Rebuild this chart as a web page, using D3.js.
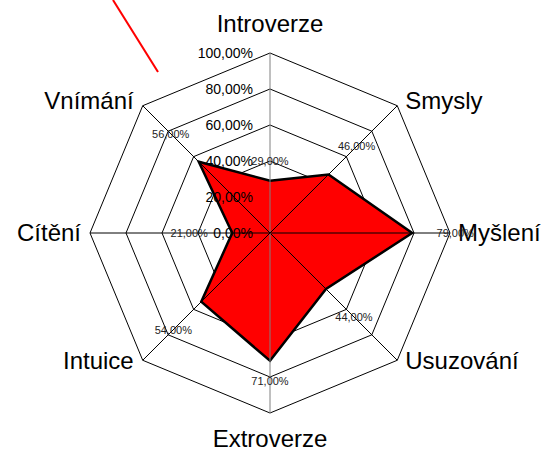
<!DOCTYPE html>
<html>
  <head>
    <meta charset="utf-8" />
    <script src="https://d3js.org/d3.v7.min.js"></script>
    <style>
        body { margin: 0; background: #fff; }
        svg text { font-family: "Liberation Sans", Arial, sans-serif; }
    </style>
  </head>
  <body>
    <svg id="radar" width="550" height="450"></svg>

    <script>
        // data
        var categories = ["Introverze", "Smysly", "Myšlení", "Usuzování", "Extroverze", "Intuice", "Cítění", "Vnímání"];
        var values = [0.29, 0.46, 0.79, 0.44, 0.71, 0.54, 0.21, 0.56];
        var ticks = [0, 0.2, 0.4, 0.6, 0.8, 1.0];

        var svg = d3.select("#radar");
        var cx = 270, cy = 233;

        var r = d3.scaleLinear().domain([0, 1]).range([0, 180]);
        var angle = d3.scaleLinear().domain([0, categories.length]).range([0, 2 * Math.PI]);

        function fmt(v) {
            return (v * 100).toFixed(2).replace(".", ",") + "%";
        }
        function pt(i, v) {
            var a = angle(i);
            return [cx + r(v) * Math.sin(a), cy - r(v) * Math.cos(a)];
        }

        var g = svg.append("g");

        // rings
        ticks.slice(1).forEach(function(t) {
            g.append("polygon")
                .attr("points", categories.map(function(c, i) { return pt(i, t).join(","); }).join(" "))
                .attr("fill", "none")
                .attr("stroke", "#000")
                .attr("stroke-width", 1);
        });

        // data area
        g.append("polygon")
            .attr("points", values.map(function(v, i) { return pt(i, v).join(","); }).join(" "))
            .attr("fill", "#ff0000")
            .attr("stroke", "#000")
            .attr("stroke-width", 2.5)
            .attr("stroke-linejoin", "miter");

        // spokes
        categories.forEach(function(c, i) {
            var p = pt(i, 1);
            g.append("line")
                .attr("x1", cx).attr("y1", cy)
                .attr("x2", p[0]).attr("y2", p[1])
                .attr("stroke", i == 0 || i == 4 ? "#808080" : "#000")
                .attr("stroke-width", 1);
        });

        // category labels
        categories.forEach(function(c, i) {
            var p = pt(i, 1);
            var s = Math.sin(angle(i)), co = Math.cos(angle(i));
            var x = p[0], y = p[1], anchor = "middle";
            if (s > 0.1) { anchor = "start"; x += 8; }
            else if (s < -0.1) { anchor = "end"; x -= 9; }
            if (Math.abs(co) > 0.9) {
                y += co > 0 ? -21 : 34;
            } else {
                y += co > 0.1 ? 3 : 9;
                if (Math.abs(co) < 0.1) y += -1;
            }
            g.append("text")
                .attr("x", x).attr("y", y)
                .attr("text-anchor", anchor)
                .attr("font-size", 24)
                .attr("fill", "#000")
                .text(c);
        });

        // data labels
        categories.forEach(function(c, i) {
            var a = angle(i);
            var ux = Math.sin(a), uy = -Math.cos(a);
            var off = 12 + Math.abs(ux) * 31 + Math.abs(uy) * 8;
            var p = pt(i, values[i]);
            g.append("text")
                .attr("x", p[0] + ux * off)
                .attr("y", p[1] + uy * off)
                .attr("dy", "0.35em")
                .attr("text-anchor", "middle")
                .attr("font-size", 11)
                .attr("fill", "#222")
                .text(fmt(values[i]));
        });

        // value axis tick labels
        g.selectAll(".tick")
            .data(ticks)
            .enter().append("text")
            .attr("class", "tick")
            .attr("x", cx - 17)
            .attr("y", function(d) { return cy - r(d); })
            .attr("dy", "0.35em")
            .attr("text-anchor", "end")
            .attr("font-size", 14)
            .attr("fill", "#000")
            .text(fmt);

        // stray red line in the top left
        svg.append("line")
            .attr("x1", 113).attr("y1", 0)
            .attr("x2", 158).attr("y2", 72)
            .attr("stroke", "#ff0000")
            .attr("stroke-width", 2);
    </script>
  </body>
</html>
